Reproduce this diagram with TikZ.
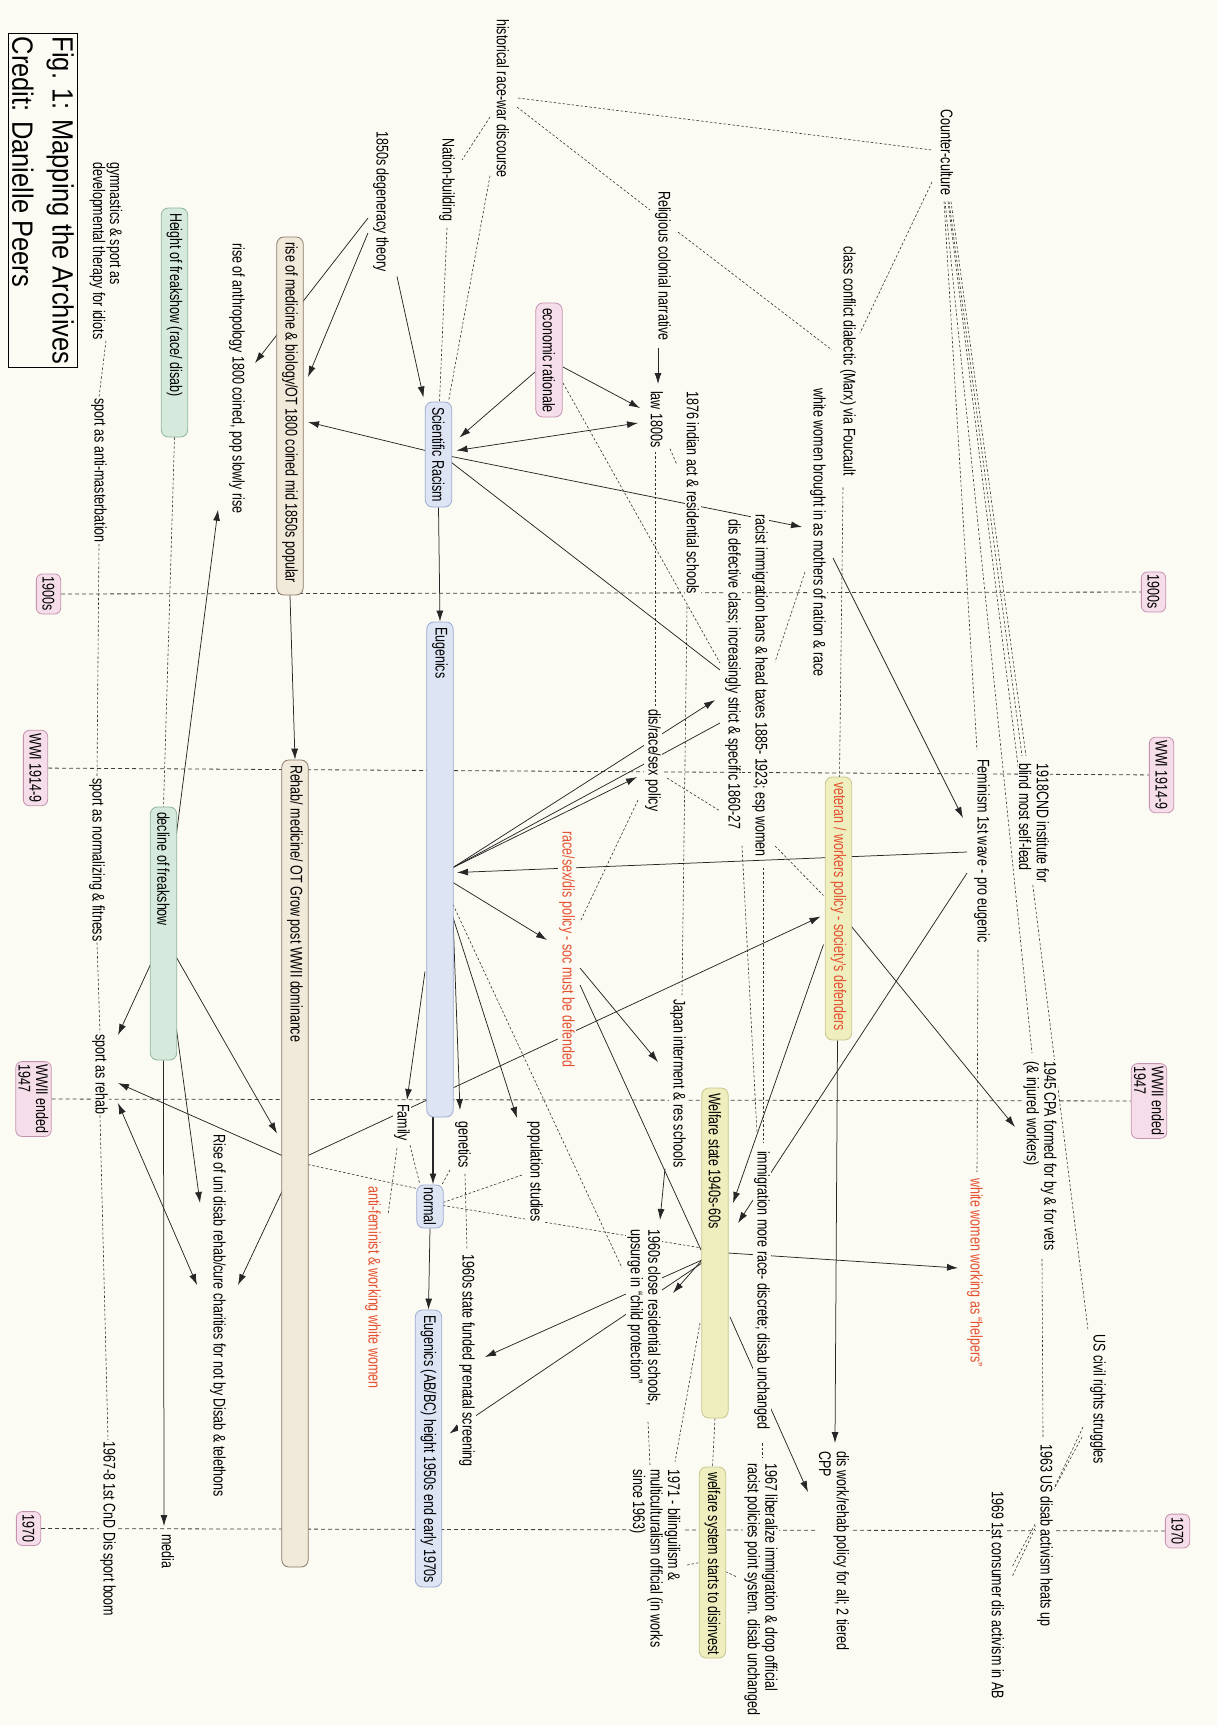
\documentclass[tikz,border=0pt]{standalone}
\usepackage{fontspec}
\setmainfont{Liberation Sans}
\usetikzlibrary{arrows.meta,calc}
\definecolor{bgc}{HTML}{FCFBF3}
\definecolor{bluef}{HTML}{DDE4F3}
\definecolor{blued}{HTML}{9AAAD2}
\definecolor{pinkf}{HTML}{F5DDEA}
\definecolor{pinkd}{HTML}{C493B0}
\definecolor{greenf}{HTML}{D6E9DD}
\definecolor{greend}{HTML}{8DB59C}
\definecolor{tanf}{HTML}{F1E9DA}
\definecolor{tand}{HTML}{8A7866}
\definecolor{yelf}{HTML}{EEEEBE}
\definecolor{yeld}{HTML}{C6C68E}
\definecolor{redt}{HTML}{E4502F}
\pgfdeclarelayer{back}\pgfdeclarelayer{lines}
\pgfsetlayers{back,lines,main}
\newcommand\bx[2]{\makebox[\dimexpr#1pt-10pt\relax][l]{#2}}
\begin{document}
\begin{tikzpicture}[x=1pt,y=-1pt,
  fnt/.style={font=\fontsize{12.5}{13}\selectfont},
  txt/.style={rotate=-90,yscale=1.35,anchor=west,inner sep=1pt,fill=bgc,align=left,fnt},
  rtxt/.style={txt,text=redt},
  box/.style={rotate=-90,yscale=1.35,draw,rounded corners=7pt,minimum height=19.5pt,inner xsep=5pt,inner ysep=1pt,fnt,line width=0.8pt},
  bluebox/.style={box,fill=bluef,draw=blued},
  greenbox/.style={box,fill=greenf,draw=greend},
  tanbox/.style={box,fill=tanf,draw=tand},
  yelbox/.style={box,fill=yelf,draw=yeld},
  pinkbox/.style={box,fill=pinkf,draw=pinkd},
  tlab/.style={rotate=-90,yscale=1.35,draw=pinkd,fill=pinkf,rounded corners=6pt,inner xsep=3pt,inner ysep=2pt,minimum height=18pt,fnt,line width=0.8pt,align=left},
  arr/.style={draw=black!85,line width=0.75pt,-{Latex[length=11pt,width=7pt]}},
  darr/.style={draw=black!85,line width=0.75pt,{Latex[length=11pt,width=7pt]}-{Latex[length=11pt,width=7pt]}},
  ln/.style={draw=black!85,line width=0.75pt},
  dsh/.style={draw=black!80,line width=0.6pt,dash pattern=on 2.5pt off 2pt},
  tl/.style={draw=black!75,line width=0.8pt,dash pattern=on 4pt off 3pt},
]
\useasboundingbox (0,0) rectangle (1217,1725);
\begin{pgfonlayer}{back}\fill[bgc] (0,0) rectangle (1217,1725);\end{pgfonlayer}

% title
\node[rotate=-90,yscale=1.15,anchor=west,draw,line width=1.3pt,inner sep=3pt,align=left,font=\fontsize{25.5}{35}\selectfont] (title) at (43,33) {Fig. 1: Mapping the Archives\\Credit: Danielle Peers};

% timeline labels
\node[tlab] (t1L) at (48.5,594) {1900s};
\node[tlab] (t1R) at (1153.5,592) {1900s};
\node[tlab] (t2L) at (35.5,768) {WWI 1914-9};
\node[tlab] (t2R) at (1161.5,775) {WWI 1914-9};
\node[tlab] (t3L) at (33.5,1099) {WWII ended\\1947};
\node[tlab] (t3R) at (1149,1101) {WWII ended\\1947};
\node[tlab] (t4L) at (28.5,1528.5) {1970};
\node[tlab] (t4R) at (1177.5,1531) {1970};

% boxes
\node[greenbox] (hfreak) at (174.5,322.5) {\bx{229}{Height of freakshow (race/ disab)}};
\node[greenbox] (dfreak) at (163.5,933.5) {\bx{253}{decline of freakshow}};
\node[tanbox] (med) at (290,416) {\bx{358}{rise of medicine \& biology/OT 1800 coined mid 1850s popular}};
\node[tanbox] (rehab) at (295,1163.5) {\bx{807}{Rehab/ medicine/ OT Grow post WWII dominance}};
\node[bluebox] (sr) at (438.5,454.5) {\bx{105}{Scientific Racism}};
\node[pinkbox] (econ) at (549,360) {\bx{114}{economic rationale}};
\node[bluebox] (eug) at (440,869.5) {\bx{495}{Eugenics}};
\node[bluebox,inner xsep=2pt] (normal) at (430,1206.5) {\makebox[39pt][c]{normal}};
\node[bluebox] (eug2) at (428.5,1448.5) {\bx{277}{Eugenics (AB/BC) height 1950s end early 1970s}};
\node[yelbox,text=redt] (vet) at (838.5,908.5) {\bx{263}{veteran / workers policy - society's defenders}};
\node[yelbox] (welfare) at (715,1253) {\bx{330}{Welfare state 1940s-60s}};
\node[yelbox] (wsys) at (712.5,1562.5) {\bx{191}{welfare system starts to disinvest}};

% text nodes
\node[txt,font=\fontsize{12.5}{10.5}\selectfont] (gym) at (106,161) {gymnastics \& sport as\\developmental therapy for idiots};
\node[txt] (spAnti) at (99,397) {sport as anti-masterbation};
\node[txt] (spNorm) at (97,777) {sport as normalizing \& fitness};
\node[txt] (spRehab) at (100,1033) {sport as rehab};
\node[txt] (spBoom) at (108,1440) {1967-8 1st CnD Dis sport boom};
\node[txt] (anthro) at (237,242) {rise of anthropology 1800 coined, pop slowly rise};
\node[txt] (degen) at (381,130) {1850s degeneracy theory};
\node[txt] (natb) at (447,137) {Nation-building};
\node[txt] (hist) at (503,18) {historical race-war discourse};
\node[txt] (relig) at (663,190) {Religious colonial narrative};
\node[txt] (law) at (657,390) {law 1800s};
\node[txt] (indian) at (693,390) {1876 indian act \& residential schools};
\node[txt] (cclass) at (848,245) {class conflict dialectic (Marx) via Foucault};
\node[txt] (whiteM) at (818,387) {white women brought in as mothers of nation \& race};
\node[txt] (counter) at (947,108) {Counter-culture};
\node[txt] (racist) at (760,513) {racist immigration bans \& head taxes 1885- 1923; esp women};
\node[txt] (disdef) at (733,518) {dis defective class; increasingly strict \& specific 1860-27};
\node[txt] (drs) at (653,708) {dis/race/sex policy};
\node[rtxt] (red1) at (567,830) {race/sex/dis policy - soc must be defended};
\node[txt] (fem) at (982,758) {Feminism 1st wave - pro eugenic};
\node[txt] (cnd) at (1034,762) {1918CND institute for\\blind most self-lead};
\node[txt] (cpa) at (1040,1060) {1945 CPA formed for by \& for vets\\(\& injured workers)};
\node[rtxt] (wwork) at (975,1177) {white women working as ``helpers''};
\node[txt] (japan) at (678,998) {Japan interment \& res schools};
\node[txt] (immig) at (762,1150) {immigration more race- discrete; disab unchanged};
\node[txt] (close60) at (644,1228) {1960s close residential schools,\\upsurge in ``child protection''};
\node[txt] (family) at (402,1103) {Family};
\node[txt] (genetics) at (463,1120) {genetics};
\node[txt] (pop) at (535,1120) {population studies};
\node[rtxt] (antifem) at (373,1185) {anti-feminist \& working white women};
\node[txt] (prenatal) at (467,1253) {1960s state funded prenatal screening};
\node[txt] (uni) at (218,1133) {Rise of uni disab rehab/cure charities for not by Disab \& telethons};
\node[txt] (media) at (168,1533) {media};
\node[txt] (bil) at (655,1468) {1971 - bilinguilism \&\\multiculturalism official (in works\\since 1963)};
\node[txt] (lib67) at (761,1462) {1967 liberalize immigration \& drop official\\racist policies point system. disab unchanged};
\node[txt] (diswork) at (834,1450) {dis work/rehab policy for all; 2 tiered\\CPP};
\node[txt] (civil) at (1098,1333) {US civil rights struggles};
\node[txt] (us63) at (1045,1443) {1963 US disab activism heats up};
\node[txt] (ab69) at (998,1490) {1969 1st consumer dis activism in AB};

\begin{pgfonlayer}{lines}
% timeline
\draw[tl] (t1L) -- (t1R);
\draw[tl] (t2L) -- (t2R);
\draw[tl] (t3L) -- (t3R);
\draw[tl] (t4L) -- (t4R);
% sport chain
\draw[dsh] (gym.east) -- (spAnti.west);
\draw[dsh] (spAnti.east) -- (spNorm.west);
\draw[dsh] (spNorm.east) -- (spRehab.west);
\draw[dsh] (spRehab.east) -- (spBoom.west);
\draw[dsh] (hfreak.east) -- (dfreak.west);
% degeneracy
\draw[arr] ([shift={(-13,88)}]degen.west) -- ([shift={(18,121)}]anthro.west);
\draw[arr] ([shift={(-13,103)}]degen.west) -- ([shift={(18,-39)}]med.center);
\draw[arr] ([shift={(16,3)}]degen.east) -- ([shift={(-15,-57)}]sr.center);
\draw[arr] ([shift={(-13,-4)}]sr.center) -- ([shift={(18,6)}]med.center);
\draw[arr] ([shift={(-14,12)}]econ.center) -- ([shift={(21,-17)}]sr.center);
\draw[arr] ([shift={(14,7)}]econ.center) -- ([shift={(-17,18)}]law.west);
\draw[darr] ([shift={(18,-4)}]sr.center) -- ([shift={(-19,33)}]law.west);
\draw[arr] ([shift={(-5,6)}]relig.east) -- ([shift={(1,-6)}]law.west);
\draw[dsh] ([shift={(-13,99)}]hist.west) -- ([shift={(15,23)}]natb.west);
\draw[dsh] ([shift={(0,5)}]natb.east) -- ([shift={(1,-53)}]sr.center);
\draw[dsh] ([shift={(-13,-3)}]hist.east) -- ([shift={(10,-53)}]sr.center);
\draw[dsh] ([shift={(15,80)}]hist.west) -- ([shift={(-15,42)}]counter.west);
\draw[dsh] ([shift={(14,89)}]hist.west) -- ([shift={(-13,20)}]relig.west);
\draw[dsh] ([shift={(15,42)}]relig.west) -- ([shift={(-16,105)}]cclass.west);
\draw[dsh] ([shift={(-15,74)}]counter.west) -- ([shift={(12,88)}]cclass.west);
\draw[dsh] ([shift={(-5,10)}]cclass.east) -- ([shift={(1,-131)}]vet.center);
\draw[dsh] ([shift={(14,23)}]econ.center) -- ([shift={(-13,145)}]disdef.west);
\draw[dsh] ([shift={(-2,3)}]law.east) -- ([shift={(2,0)}]drs.west);
\draw[dsh] ([shift={(13,0)}]law.east) -- ([shift={(-16,75)}]indian.west);
\draw[dsh] ([shift={(-6,11)}]indian.east) -- ([shift={(4,-3)}]japan.west);
\draw[arr] ([shift={(13,2)}]sr.center) -- ([shift={(-16,140)}]whiteM.west);
\draw[ln] ([shift={(13,8)}]sr.center) -- ([shift={(-13,152)}]disdef.west);
\draw[arr] (sr.east) -- (eug.west);
\draw[arr] ([shift={(15,171)}]whiteM.west) -- ([shift={(-19,60)}]fem.west);
% counter-culture fan
\draw[dsh] ([shift={(-3,5)}]counter.east) -- ([shift={(-5,-8)}]fem.west);
\draw[dsh] ([shift={(-2,5)}]counter.east) -- ([shift={(-8,-7)}]cpa.west);
\draw[dsh] ([shift={(2,5)}]counter.east) -- ([shift={(-12,-6)}]cnd.west);
\draw[dsh] ([shift={(4,5)}]counter.east) -- ([shift={(-8,-6)}]cnd.west);
\draw[dsh] ([shift={(1,5)}]counter.east) -- ([shift={(-10,-3)}]civil.west);
\draw[dsh] ([shift={(2,7)}]cpa.east) -- ([shift={(-2,-6)}]us63.west);
\draw[dsh] ([shift={(-15,94)}]civil.west) -- ([shift={(14,87)}]ab69.west);
\draw[dsh] ([shift={(-16,104)}]civil.west) -- ([shift={(14,77)}]ab69.west);
\draw[dsh] ([shift={(-4,6)}]fem.east) -- ([shift={(2,-5)}]wwork.west);
\draw[arr] ([shift={(-15,94)}]fem.west) -- ([shift={(17,3)}]eug.center);
\draw[arr] ([shift={(-15,115)}]fem.west) -- ([shift={(23,-30)}]welfare.center);
\draw[arr] ([shift={(-15,36)}]vet.center) -- ([shift={(18,-50)}]welfare.center);
\draw[arr] ([shift={(13,18)}]vet.center) -- ([shift={(-25,67)}]cpa.west);
\draw[arr] ([shift={(-1,0)}]vet.east) -- ([shift={(1,-7)}]diswork.west);
\draw[arr] ([shift={(13,-8)}]rehab.center) -- ([shift={(-18,8)}]vet.center);
% eugenics fan
\draw[arr] ([shift={(13,-2)}]eug.center) -- ([shift={(-16,69)}]drs.west);
\draw[arr] ([shift={(13,-2)}]eug.center) -- ([shift={(-18,182)}]disdef.west);
\draw[ln] ([shift={(13,-2)}]eug.center) -- ([shift={(-13,205)}]disdef.west);
\draw[dsh] ([shift={(14,70)}]drs.west) -- ([shift={(-13,-20)}]disdef.east);
\draw[dsh] ([shift={(-15,92)}]drs.west) -- ([shift={(13,92)}]red1.west);
\draw[arr] ([shift={(13,13)}]eug.center) -- ([shift={(-20,110)}]red1.west);
\draw[arr] ([shift={(13,138)}]red1.west) -- ([shift={(-20,64)}]japan.west);
\draw[ln] ([shift={(13,155)}]red1.west) -- ([shift={(-14,-3)}]welfare.center);
\draw[dsh] ([shift={(13,35)}]eug.center) -- ([shift={(-22,40)}]close60.west);
\draw[arr] ([shift={(-15,102)}]eug.center) -- ([shift={(5,-3)}]family.west);
\draw[arr,line width=1.5pt] ([shift={(-7,0)}]eug.east) -- ([shift={(3,0)}]normal.west);
\draw[arr] (normal.east) -- (eug2.west);
\draw[arr] ([shift={(13,47)}]eug.center) -- ([shift={(-3,-10)}]genetics.west);
\draw[arr] ([shift={(13,48)}]eug.center) -- ([shift={(-18,-2)}]pop.west);
\draw[dsh] ([shift={(8,3)}]family.east) -- ([shift={(-10,-22)}]normal.center);
\draw[dsh] ([shift={(-13,1)}]genetics.east) -- ([shift={(12,-22)}]normal.center);
\draw[dsh] ([shift={(2,5)}]genetics.east) -- ([shift={(0,-3)}]prenatal.west);
\draw[dsh] ([shift={(-13,55)}]pop.west) -- ([shift={(13,-4)}]normal.center);
\draw[dsh] ([shift={(13,1)}]rehab.center) -- ([shift={(-13,-18)}]normal.center);
\draw[dsh] ([shift={(13,-1)}]normal.center) -- ([shift={(-13,-5)}]welfare.center);
\draw[dsh] ([shift={(-5,6)}]family.east) -- ([shift={(15,30)}]antifem.west);
% left side
\draw[arr] ([shift={(-13,-8)}]rehab.center) -- ([shift={(18,50)}]spRehab.west);
\draw[arr] ([shift={(-13,31)}]dfreak.center) -- ([shift={(18,2)}]spRehab.west);
\draw[arr] ([shift={(13,24)}]dfreak.center) -- ([shift={(-18,-30)}]rehab.center);
\draw[arr] ([shift={(13,96)}]dfreak.center) -- ([shift={(-18,70)}]uni.west);
\draw[arr] (dfreak.east) -- ([shift={(-4,-7)}]media.west);
\draw[arr] ([shift={(13,-100)}]dfreak.center) -- ([shift={(-19,-5)}]anthro.east);
\draw[arr] ([shift={(-13,28)}]rehab.center) -- ([shift={(20,152)}]uni.west);
\draw[darr] ([shift={(18,70)}]spRehab.west) -- ([shift={(-21,152)}]uni.west);
\draw[arr] (med.east) -- (rehab.west);
% welfare area
\draw[arr] ([shift={(-13,0)}]japan.east) -- ([shift={(16,-8)}]close60.west);
\draw[dsh] ([shift={(4,15)}]close60.east) -- ([shift={(-5,-3)}]bil.west);
\draw[dsh] ([shift={(-15,70)}]welfare.center) -- ([shift={(20,-6)}]bil.west);
\draw[dsh] (welfare.east) -- (wsys.west);
\draw[dsh] ([shift={(32,97)}]bil.west) -- ([shift={(-13,0)}]wsys.center);
\draw[dsh] ([shift={(13,9)}]wsys.center) -- ([shift={(-24,115)}]lib67.west);
\draw[arr] ([shift={(13,0)}]welfare.center) -- ([shift={(-17,91)}]wwork.west);
\draw[arr] ([shift={(15,64)}]welfare.center) -- ([shift={(-26,42)}]diswork.west);
\draw[arr] ([shift={(-13,7)}]welfare.center) -- ([shift={(29,65)}]close60.west);
\draw[arr] ([shift={(-13,7)}]welfare.center) -- ([shift={(18,104)}]prenatal.west);
\draw[arr] ([shift={(-13,10)}]welfare.center) -- ([shift={(21,-15)}]eug2.center);
\draw[dsh] ([shift={(0,13)}]immig.east) -- ([shift={(1,-5)}]lib67.west);
\draw[dsh] ([shift={(3,10)}]racist.east) -- ([shift={(1,-7)}]immig.west);
\draw[dsh] ([shift={(9,15)}]disdef.east) -- ([shift={(-5,-17)}]immig.west);
\draw[dsh] ([shift={(-13,185)}]whiteM.west) -- ([shift={(15,149)}]racist.west);
\draw[dsh] ([shift={(15,-12)}]racist.east) -- ([shift={(-15,-13)}]vet.center);
\end{pgfonlayer}
\end{tikzpicture}
\end{document}
